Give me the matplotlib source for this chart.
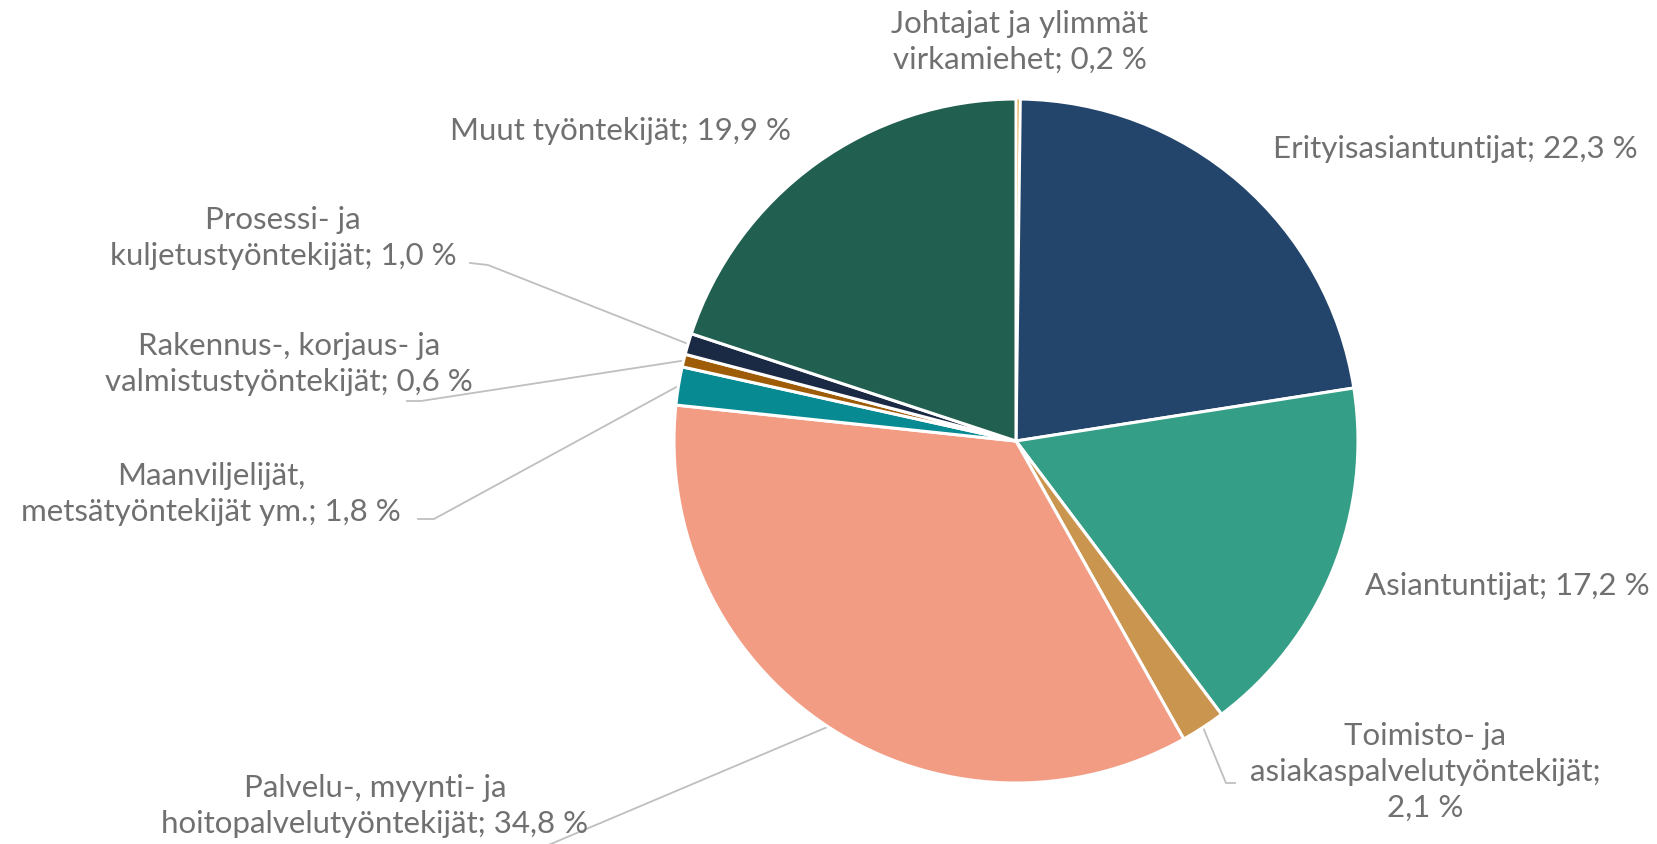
import numpy as np
import matplotlib
matplotlib.use("Agg")
import matplotlib.pyplot as plt

categories = [
    "Johtajat ja ylimmät\nvirkamiehet",
    "Erityisasiantuntijat",
    "Asiantuntijat",
    "Toimisto- ja\nasiakaspalvelutyöntekijät;\n",
    "Palvelu-, myynti- ja\nhoitopalvelutyöntekijät",
    "Maanviljelijät,\nmetsätyöntekijät ym.",
    "Rakennus-, korjaus- ja\nvalmistustyöntekijät",
    "Prosessi- ja\nkuljetustyöntekijät",
    "Muut työntekijät",
]
values = [0.2, 22.3, 17.2, 2.1, 34.8, 1.8, 0.6, 1.0, 19.9]
colors = ["#E2A33A", "#24456B", "#359E87", "#C9954F", "#F29C84",
          "#078A92", "#9E5C06", "#1B2A44", "#215F50"]

W, H = 1658, 845
fig = plt.figure(figsize=(W / 100, H / 100), dpi=100)
ax = fig.add_axes([0, 0, 1, 1])

cx, cy, R = 1016, H - 442, 342
wedges, _ = ax.pie(values, colors=colors, startangle=90, counterclock=False,
                   center=(cx, cy), radius=R,
                   wedgeprops=dict(edgecolor="white", linewidth=2.2))
wedges[0].set_linewidth(0.5)
ax.set_xlim(0, W)
ax.set_ylim(0, H)
ax.set_aspect("equal")
ax.axis("off")

# label centres (pixel coords from top-left)
label_pos = [(1020, 42), (1455, 149), (1507, 586), (1425, 772), (375, 806),
             (211, 494), (289, 364), (283, 238), (621, 131)]
# leader line start points (label side), None = no leader
leader_pts = [None, None, None,
              [(1235, 784), (1226, 784)],
              [(539, 850)],
              [(418, 520), (434, 520)],
              [(407, 402), (421, 402)],
              [(470, 264), (488, 266)],
              None]

txtcol = "#707070"
for i, (w, cat, v) in enumerate(zip(wedges, categories, values)):
    pct = f"{v:.1f}".replace(".", ",") + " %"
    if cat.endswith("\n"):
        label = cat + pct
    else:
        label = cat + "; " + pct
    x, y = label_pos[i]
    ax.text(x, H - y, label, ha="center", va="center", multialignment="center",
            fontsize=22.5, color=txtcol, family=["Lato", "DejaVu Sans"],
            linespacing=1.36)
    if leader_pts[i] is not None:
        th = np.deg2rad((w.theta1 + w.theta2) / 2)
        ax_, ay_ = cx + R * np.cos(th), cy + R * np.sin(th)
        xs = [p[0] for p in leader_pts[i]] + [ax_]
        ys = [H - p[1] for p in leader_pts[i]] + [ay_]
        ax.plot(xs, ys, color="#BFBFBF", lw=1.3, zorder=0.5, clip_on=False)

fig.savefig("out.png", dpi=100, facecolor="white")
